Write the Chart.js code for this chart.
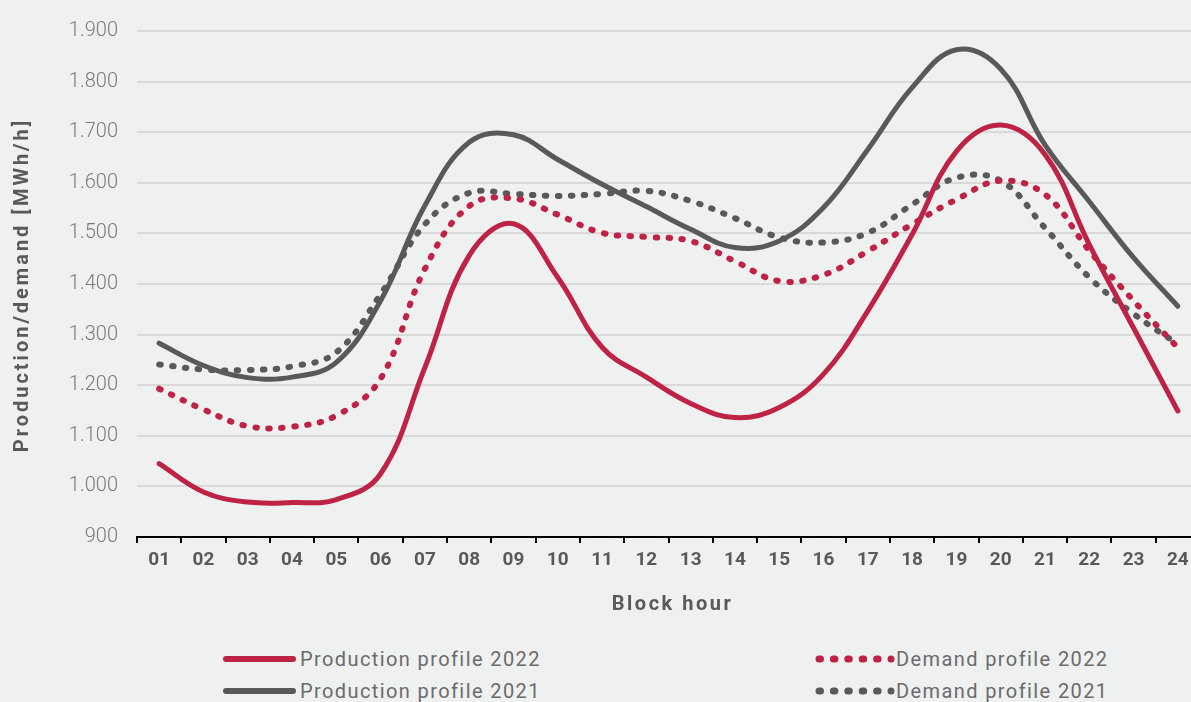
<!DOCTYPE html>
<html>
<head>
    <meta charset="UTF-8">
    <title>Production and demand profile</title>
    <script src="https://cdn.jsdelivr.net/npm/chart.js"></script>
    <style>
        html, body { margin: 0; padding: 0; background: #eff0f0; overflow: hidden; }
        .wrap { position: relative; width: 1191px; height: 702px; overflow: hidden; }
        #chartBox { position: absolute; left: 0; top: 0; width: 1210px; height: 630px; }
        .leg { position: absolute; font-family: Roboto, sans-serif; font-size: 20px; color: #6b6b6b; line-height: 24px; white-space: nowrap; letter-spacing: 1.4px; }
        .leg svg { position: absolute; left: 0; top: 0; }
        .leg span { position: absolute; top: 0; }
    </style>
</head>
<body>
<div class="wrap">
    <div id="chartBox"><canvas id="profileChart" width="1210" height="630"></canvas></div>

    <!-- legend, two columns -->
    <div class="leg" style="left:220px; top:647px; width:400px; height:24px;">
        <svg width="80" height="24"><line x1="6" y1="12" x2="73" y2="12" stroke="#be2346" stroke-width="6" stroke-linecap="round"/></svg>
        <span style="left:80px;">Production profile 2022</span>
    </div>
    <div class="leg" style="left:220px; top:679px; width:400px; height:24px;">
        <svg width="80" height="24"><line x1="6" y1="12" x2="73" y2="12" stroke="#595959" stroke-width="6" stroke-linecap="round"/></svg>
        <span style="left:80px;">Production profile 2021</span>
    </div>
    <div class="leg" style="left:814px; top:647px; width:370px; height:24px;">
        <svg width="82" height="24"><line x1="5" y1="12" x2="77" y2="12" stroke="#be2346" stroke-width="7" stroke-linecap="round" stroke-dasharray="1.5 12.9"/></svg>
        <span style="left:82px;">Demand profile 2022</span>
    </div>
    <div class="leg" style="left:814px; top:679px; width:370px; height:24px;">
        <svg width="82" height="24"><line x1="5" y1="12" x2="77" y2="12" stroke="#595959" stroke-width="7" stroke-linecap="round" stroke-dasharray="1.5 12.9"/></svg>
        <span style="left:82px;">Demand profile 2021</span>
    </div>
</div>

<script>
    // block hours
    var hours = ['01', '02', '03', '04', '05', '06', '07', '08', '09', '10', '11', '12',
                 '13', '14', '15', '16', '17', '18', '19', '20', '21', '22', '23', '24'];

    // MWh/h
    var prod2022 = [1045, 989, 969, 968, 974, 1025, 1235, 1456, 1519, 1413, 1275, 1216,
                    1164, 1136, 1156, 1222, 1347, 1498, 1662, 1714, 1656, 1478, 1313, 1149];
    var prod2021 = [1283, 1239, 1215, 1216, 1245, 1367, 1555, 1680, 1695, 1646, 1597, 1553,
                    1508, 1472, 1485, 1551, 1666, 1788, 1863, 1825, 1675, 1563, 1452, 1356];
    var dem2022 = [1193, 1152, 1119, 1118, 1140, 1213, 1430, 1554, 1569, 1537, 1501, 1493,
                   1485, 1445, 1406, 1418, 1465, 1518, 1567, 1604, 1577, 1466, 1367, 1274];
    var dem2021 = [1241, 1231, 1230, 1237, 1265, 1380, 1518, 1580, 1578, 1574, 1578, 1584,
                   1564, 1530, 1492, 1482, 1501, 1557, 1610, 1604, 1511, 1413, 1341, 1281];

    var yMin = 900, yMax = 1900, yStep = 100;
    var xTitle = 'Block hour';
    var yTitle = 'Production/demand [MWh/h]';

    var red = '#be2346';
    var grey = '#595959';

    function lineSet(label, data, color, dotted, order) {
        return {
            label: label,
            data: data,
            borderColor: color,
            backgroundColor: color,
            borderWidth: dotted ? 6 : 5,
            borderDash: dotted ? [1.5, 11.5] : [],
            borderCapStyle: 'round',
            borderJoinStyle: 'round',
            pointRadius: 0,
            pointHoverRadius: 0,
            tension: 0.4,
            fill: false,
            order: order
        };
    }

    // axis titles drawn by hand so they can get letter spacing
    var axisTitles = {
        id: 'axisTitles',
        afterDraw: function (chart) {
            var c = chart.ctx;
            var area = chart.chartArea;
            c.save();
            c.font = 'bold 20px Roboto';
            c.fillStyle = grey;
            c.letterSpacing = '2.5px';
            c.textAlign = 'center';
            c.textBaseline = 'middle';
            c.fillText(xTitle, (area.left + area.right) / 2 + 4, 605);
            c.translate(23, (area.top + area.bottom) / 2 + 1);
            c.rotate(-Math.PI / 2);
            c.letterSpacing = '3px';
            c.fillText(yTitle, 0, 0);
            c.restore();
        }
    };

    var ctx = document.getElementById('profileChart').getContext('2d');
    var profileChart = new Chart(ctx, {
        type: 'line',
        data: {
            labels: hours,
            datasets: [
                lineSet('Production profile 2022', prod2022, red, false, 1),
                lineSet('Demand profile 2022', dem2022, red, true, 2),
                lineSet('Demand profile 2021', dem2021, grey, true, 3),
                lineSet('Production profile 2021', prod2021, grey, false, 4)
            ]
        },
        options: {
            responsive: false,
            animation: false,
            layout: { padding: { top: 20, right: 10, left: 0, bottom: 0 } },
            plugins: {
                legend: { display: false },
                tooltip: { enabled: false }
            },
            scales: {
                x: {
                    offset: true,
                    grid: {
                        offset: true,
                        drawOnChartArea: false,
                        drawTicks: true,
                        tickLength: 6,
                        color: '#000000',
                        lineWidth: 2
                    },
                    border: { display: true, color: '#000000', width: 2 },
                    ticks: {
                        color: grey,
                        padding: 6,
                        maxRotation: 0,
                        autoSkip: false,
                        font: { family: 'Roboto', size: 19, weight: 'bold' }
                    },
                    afterFit: function (scale) { scale.height = 93; }
                },
                y: {
                    min: yMin,
                    max: yMax,
                    grid: {
                        color: '#d9d9d9',
                        lineWidth: 2,
                        drawTicks: false
                    },
                    border: { display: false },
                    ticks: {
                        stepSize: yStep,
                        color: '#7a7a7a',
                        padding: 19,
                        font: { family: 'Roboto', size: 20, weight: '300' },
                        callback: function (v) {
                            return String(v).replace(/\B(?=(\d{3})+(?!\d))/g, '.');
                        }
                    },
                    afterFit: function (scale) { scale.width = 137; }
                }
            }
        },
        plugins: [axisTitles]
    });
</script>
</body>
</html>
